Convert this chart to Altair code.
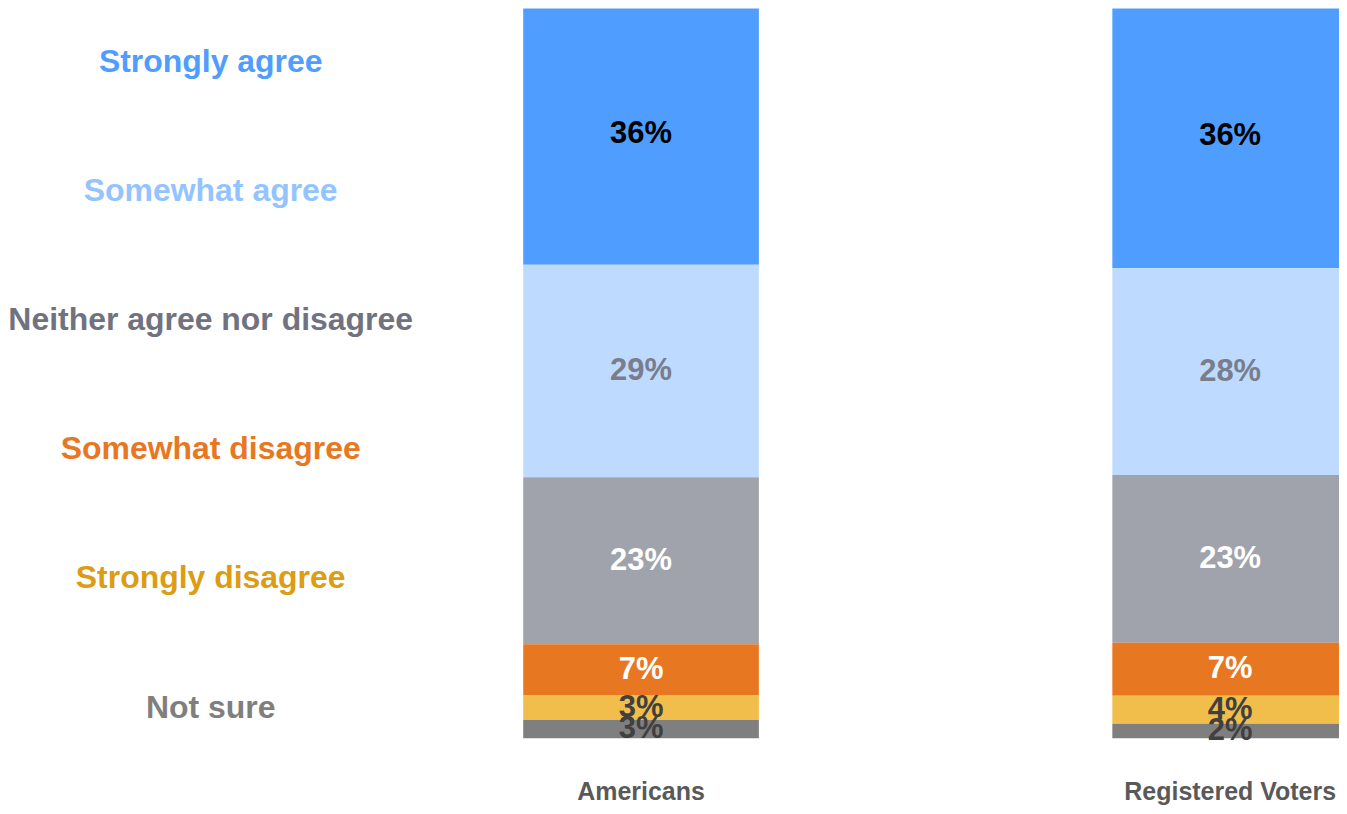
import altair as alt
import pandas as pd

categories = ["Strongly agree", "Somewhat agree", "Neither agree nor disagree",
              "Somewhat disagree", "Strongly disagree", "Not sure"]
groups = ["Americans", "Registered Voters"]
americans = [35.6, 28.9, 22.7, 6.9, 3.4, 2.5]
voters = [36.1, 28.1, 22.8, 7.2, 3.8, 2.0]

bar_colors = ["#4f9dff", "#bedbff", "#a0a3ab", "#e87722", "#f1bd4b", "#7f7f7f"]
label_colors = ["#000000", "#7a7d8c", "#ffffff", "#ffffff", "#404040", "#404040"]
legend_colors = ["#4f9dff", "#94c4ff", "#70737f", "#e87722", "#dc9c14", "#7f7f7f"]

FONT = "Liberation Sans"

rows = []
for g, vals in zip(groups, [americans, voters]):
    for i, (c, v) in enumerate(zip(categories, vals)):
        rows.append({"group": g, "category": c, "idx": i, "value": v})
df = pd.DataFrame(rows)

leg_df = pd.DataFrame({"category": categories})

xscale = alt.Scale(domain=groups, range=[114, 940], paddingInner=0.6, paddingOuter=0)
yscale = alt.Scale(domain=[0, 99.2], nice=False, zero=False)

base = alt.Chart(df).transform_stack(
    stack="value", groupby=["group"], as_=["y0", "y1"],
    sort=[alt.SortField("idx", order="descending")]
).transform_calculate(
    mid="(datum.y0 + datum.y1) / 2",
    label="format(datum.value, '.0f') + '%'"
)

xaxis = alt.Axis(title=None, domain=False, ticks=False, tickSize=0, grid=False,
                 labelAngle=0, labelFont=FONT, labelFontSize=25, labelFontWeight="bold",
                 labelColor="#595959", labelPadding=41, labelLimit=0)

bars = base.mark_bar(clip=True).encode(
    x=alt.X("group:N", scale=xscale, axis=xaxis, sort=groups),
    y=alt.Y("y0:Q", scale=yscale, axis=None),
    y2="y1:Q",
    color=alt.Color("category:N", scale=alt.Scale(domain=categories, range=bar_colors), legend=None),
)

texts = base.mark_text(font=FONT, fontSize=31, fontWeight="bold", baseline="middle", align="center").encode(
    x=alt.X("group:N", scale=xscale, axis=xaxis, sort=groups),
    y=alt.Y("mid:Q", scale=yscale, axis=None),
    text="label:N",
    color=alt.Color("category:N", scale=alt.Scale(domain=categories, range=label_colors), legend=None),
)

right = alt.layer(bars, texts).resolve_scale(color="independent").properties(width=931, height=731)

left = alt.Chart(leg_df).mark_text(font=FONT, fontSize=32, fontWeight="bold",
                                   baseline="middle", align="center").encode(
    x=alt.value(201),
    y=alt.Y("category:N", sort=categories, axis=None,
            scale=alt.Scale(type="point", padding=0.329, align=0.635)),
    text="category:N",
    color=alt.Color("category:N", scale=alt.Scale(domain=categories, range=legend_colors), legend=None),
).properties(width=400, height=731)

chart = alt.hconcat(left, right, spacing=0, bounds="flush").resolve_scale(
    color="independent", x="independent", y="independent"
).properties(padding=0).configure_view(stroke=None)

chart.save("out.html", embed_options={"renderer": "svg", "actions": False})
